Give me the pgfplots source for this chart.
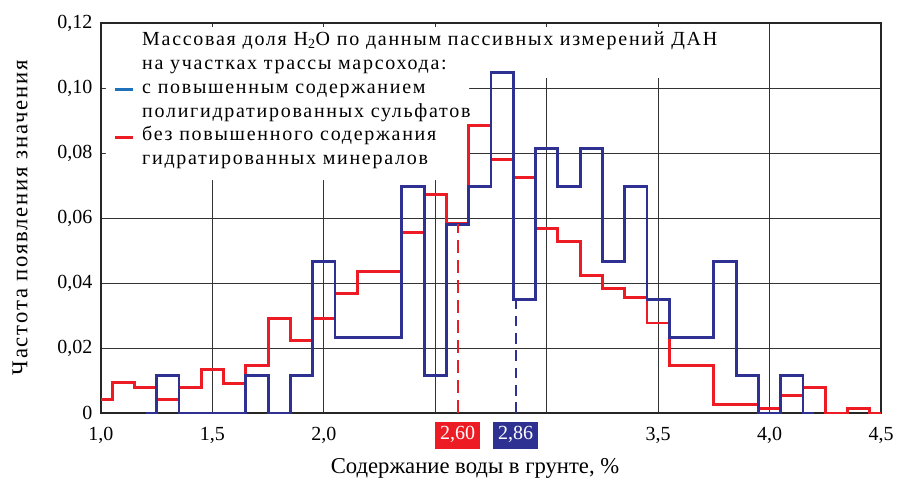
\documentclass[border=0pt]{standalone}
\usepackage{pgfplots}
\pgfplotsset{compat=1.18}
\usepackage{fontspec}
\setmainfont{Liberation Serif}
\newfontfamily\legfont[LetterSpace=8.6]{Liberation Serif}
\newfontfamily\ylabfont[LetterSpace=8]{Liberation Serif}
\definecolor{cred}{HTML}{ED1C24}
\definecolor{cnavy}{HTML}{2E3192}
\definecolor{clegblue}{HTML}{1F72BA}
\setlength{\fboxsep}{3.5pt}
\newcommand{\tbox}[2]{\colorbox{#1}{\rule[-3.5pt]{0pt}{13pt}\textcolor{white}{#2}}}
\begin{document}
\begin{tikzpicture}
\begin{axis}[
  scale only axis, width=585pt, height=292.5pt,
  xmin=1, xmax=4.5, ymin=0, ymax=0.12,
  xtick={1,1.5,2,2.5,3,3.5,4,4.5},
  xticklabels={{1,0},{1,5},{2,0},{},{},{3,5},{4,0},{4,5}},
  extra x ticks={2.6,2.86},
  extra x tick labels={{\tbox{cred}{2,60}},{\tbox{cnavy}{2,86}}},
  extra x tick style={grid=none, major tick length=0pt},
  ytick={0,0.02,0.04,0.06,0.08,0.1,0.12},
  yticklabels={0,{0,02},{0,04},{0,06},{0,08},{0,10},{0,12}},
  grid=major,
  major grid style={black!80, line width=0.6pt},
  axis line style={black!85, line width=0.8pt},
  major tick length=0pt,
  tick label style={font=\fontsize{15}{18}\selectfont},
  xticklabel style={anchor=center, yshift=-17pt},
  yticklabel style={anchor=east, xshift=-3pt},
  xlabel={Содержание воды в грунте, \%},
  ylabel={\ylabfont Частота появления значения},
  label style={font=\fontsize{17}{20}\selectfont},
  xlabel style={at={(axis description cs:0.4795,-0.141)}, anchor=center},
  ylabel style={at={(axis description cs:-0.1038,0.5)}, anchor=center},
  clip=false,
  legend image code/.code={\draw[#1] (0pt,0pt) -- (13.5pt,0pt);},
  legend cell align=left,
  legend style={draw=none, fill=none, at={(axis description cs:0,1)}, anchor=north west,
    xshift=9.5pt, yshift=-5.5pt, inner sep=0pt, row sep=0pt, column sep=5.5pt,
    font=\fontsize{15}{17}\legfont,
    nodes={inner sep=0pt, text height=11.5pt, text depth=6.3pt}},
]
\addlegendimage{empty legend}\addlegendentry{Массовая доля H\textsubscript{2}O по данным пассивных измерений ДАН}
\addlegendimage{empty legend}\addlegendentry{на участках трассы марсохода:}
\addlegendimage{clegblue, line width=2.2pt}\addlegendentry{с повышенным содержанием}
\addlegendimage{empty legend}\addlegendentry{полигидратированных сульфатов}
\addlegendimage{cred, line width=2.2pt}\addlegendentry{без повышенного содержания}
\addlegendimage{empty legend}\addlegendentry{гидратированных минералов}

\fill[white] (axis description cs:0.0064,0.9897) -- (axis description cs:0.8128,0.9897)
  -- (axis description cs:0.8128,0.859) -- (axis description cs:0.4718,0.859)
  -- (axis description cs:0.4718,0.5974) -- (axis description cs:0.0064,0.5974) -- cycle;

% red series (left bin edges)
\addplot[forget plot, const plot, cred, line width=2.2pt] coordinates {
(1.0,0.0041) (1.05,0.0094) (1.15,0.0079) (1.25,0.0041) (1.35,0.0079) (1.45,0.0133)
(1.55,0.0092) (1.65,0.0146) (1.75,0.0290) (1.85,0.0223) (1.95,0.0290) (2.05,0.0369)
(2.15,0.0434) (2.25,0.0434) (2.35,0.0554) (2.45,0.0672) (2.55,0.0582) (2.65,0.0884)
(2.75,0.0779) (2.85,0.0725) (2.95,0.0567) (3.05,0.0528) (3.15,0.0422) (3.25,0.0382)
(3.35,0.0356) (3.45,0.0277) (3.55,0.0146) (3.65,0.0146) (3.75,0.0026) (3.85,0.0026)
(3.95,0.0015) (4.05,0.0054) (4.15,0.0079) (4.25,0) (4.35,0.0015) (4.45,0) (4.5,0)};
% blue series
\addplot[forget plot, const plot, cnavy, line width=2.2pt] coordinates {
(1.2,0) (1.25,0.0116) (1.35,0) (1.45,0) (1.55,0) (1.65,0.0116) (1.75,0) (1.85,0.0116)
(1.95,0.0465) (2.05,0.0233) (2.15,0.0233) (2.25,0.0233) (2.35,0.0698) (2.45,0.0116)
(2.55,0.0581) (2.65,0.0698) (2.75,0.1047) (2.85,0.0349) (2.95,0.0814) (3.05,0.0698)
(3.15,0.0814) (3.25,0.0465) (3.35,0.0698) (3.45,0.0349) (3.55,0.0233) (3.65,0.0233)
(3.75,0.0465) (3.85,0.0116) (3.95,0) (4.05,0.0116) (4.15,0) (4.2,0)};
% medians
\addplot[forget plot, cred, line width=1.5pt, dash pattern=on 10pt off 5pt] coordinates {(2.60,0) (2.60,0.0582)};
\addplot[forget plot, cnavy, line width=1.5pt, dash pattern=on 8pt off 5pt] coordinates {(2.86,0) (2.86,0.0349)};
\end{axis}
\pgfresetboundingbox
\path[use as bounding box] ([shift={(-75.75pt,-53.25pt)}]current axis.south west) rectangle ([shift={(12pt,17.25pt)}]current axis.north east);
\end{tikzpicture}
\end{document}
